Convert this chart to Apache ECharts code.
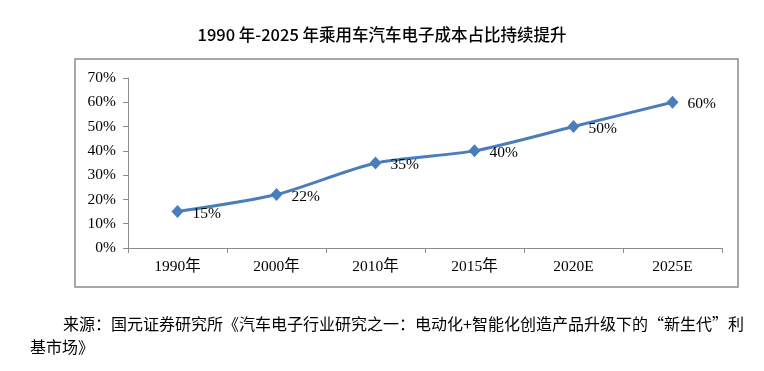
<!DOCTYPE html>
<html><head><meta charset="utf-8">
<script src="https://cdn.jsdelivr.net/npm/echarts@6/dist/echarts.min.js"></script>
<style>html,body{margin:0;padding:0;background:#fff}#c{width:764px;height:371px}</style>
</head><body><div id="c"></div>
<script>
var titleText = '1990 年-2025 年乘用车汽车电子成本占比持续提升';
var categories = ['1990年', '2000年', '2010年', '2015年', '2020E', '2025E'];
var values = [15, 22, 35, 40, 50, 60];
var yTicks = [0, 10, 20, 30, 40, 50, 60, 70];
var sourceLine1 = '来源：国元证券研究所《汽车电子行业研究之一：电动化+智能化创造产品升级下的“新生代”利';
var sourceLine2 = '基市场》';

var serif = '"Liberation Serif", "Times New Roman", "Noto Sans CJK SC", serif';
var chart = echarts.init(document.getElementById('c'), null, {renderer: 'canvas'});
chart.setOption({
  backgroundColor: '#fff',
  animation: false,
  title: {
    text: titleText, left: 'center', top: 21,
    textStyle: {fontFamily: '"Noto Sans CJK SC", sans-serif', fontSize: 16.5, fontWeight: 500, color: '#000'}
  },
  graphic: [
    {type: 'rect', shape: {x: 75, y: 59, width: 663, height: 228}, style: {fill: 'none', stroke: '#8c8c8c', lineWidth: 1.5}, z: -1},
    {type: 'text', left: 63, top: 316, style: {text: sourceLine1, font: '16px "Noto Sans CJK SC", serif', fill: '#000'}},
    {type: 'text', left: 30, top: 339, style: {text: sourceLine2, font: '16px "Noto Sans CJK SC", serif', fill: '#000'}}
  ],
  grid: {left: 128, right: 42, top: 78, bottom: 123},
  xAxis: {
    type: 'category', data: categories, boundaryGap: true,
    axisLine: {lineStyle: {color: '#8c8c8c', width: 1}},
    axisTick: {show: true, length: 5, lineStyle: {color: '#8c8c8c'}},
    axisLabel: {margin: 11, color: '#000', fontFamily: serif, fontSize: 15.5}
  },
  yAxis: {
    type: 'value', min: yTicks[0], max: yTicks[yTicks.length - 1], interval: 10,
    splitLine: {show: false},
    axisLine: {show: true, lineStyle: {color: '#8c8c8c', width: 1}},
    axisTick: {show: true, length: 5, lineStyle: {color: '#8c8c8c'}},
    axisLabel: {margin: 12, color: '#000', fontFamily: serif, fontSize: 15.5, formatter: '{value}%'}
  },
  series: [{
    type: 'line', data: values, smooth: 0.25,
    symbol: 'diamond', symbolSize: [12, 13],
    lineStyle: {color: '#4a7ebb', width: 3},
    itemStyle: {color: '#4a7ebb'},
    label: {show: true, position: 'right', distance: 9, offset: [0, 2], formatter: '{c}%', color: '#000', fontFamily: serif, fontSize: 15.5}
  }]
});
</script></body></html>
